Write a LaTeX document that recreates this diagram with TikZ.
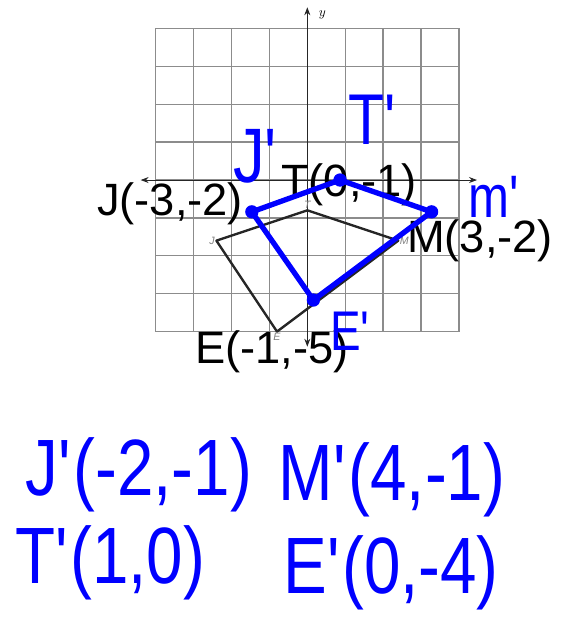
\documentclass[tikz,border=0pt]{standalone}
\usepackage{fontspec}
\setmainfont{Liberation Sans}
\newfontfamily\handfont{Liberation Sans}[FakeStretch=0.82]
\usetikzlibrary{arrows.meta}
\newcommand{\prm}{\textquotesingle}

\tikzset{
  gridline/.style={gray!90, line width=1pt},
  axisline/.style={black!85, line width=0.7pt, {Stealth[length=6pt,width=4.5pt]}-{Stealth[length=6pt,width=4.5pt]}},
  figline/.style={black!85, line width=1.8pt, line join=round},
  tinylabel/.style={text=gray, font=\itshape\fontsize{8}{8}\selectfont, inner sep=1pt},
  biglabel/.style={text=black, font=\fontsize{34}{34}\selectfont, inner sep=0pt, anchor=base},
  imageline/.style={blue, line width=4pt, line join=round},
  imagedot/.style={blue},
  handtext/.style={text=blue, inner sep=0pt, anchor=base west}
}

\begin{document}
\begin{tikzpicture}[x=0.8cm, y=0.8cm]
    \useasboundingbox (-10.14,-14.55) rectangle (8.57,5.94);

    % GRID AND AXES
    \draw[gridline] (-5,-5) grid (5,5);
    \draw[axisline] (-5.5,0) -- (5.6,0);
    \draw[axisline] (0,-5.5) -- (0,5.7);
    \node[font=\itshape\fontsize{10}{10}\selectfont, inner sep=0pt] (ylab) at (0.5,5.45) {$y$};

    % ORIGINAL FIGURE JTME
    \coordinate (J) at (-3,-2);
    \coordinate (T) at (0,-1);
    \coordinate (M) at (3,-2);
    \coordinate (E) at (-1,-5);
    \draw[figline] (J) -- (T) -- (M) -- (E) -- cycle;
    \node[tinylabel, left] (Jtiny) at (J) {J};
    \node[tinylabel, above] (Ttiny) at (T) {T};
    \node[tinylabel, right] (Mtiny) at (M) {M};
    \node[tinylabel, below] (Etiny) at (E) {E};

    % COORDINATE LABELS
    \node[biglabel] (Jlab) at (-4.53,-1.16) {J(-3,-2)};
    \node[biglabel] (Tlab) at (1.38,-0.53) {T(0,-1)};
    \node[biglabel] (Mlab) at (5.70,-2.38) {M(3,-2)};
    \node[biglabel] (Elab) at (-1.17,-6.04) {E(-1,-5)};

    % TRANSLATED FIGURE (drawn by hand)
    \coordinate (Jp) at (-1.83,-1.05);
    \coordinate (Tp) at (1.08,0);
    \coordinate (Mp) at (4.1,-1.05);
    \coordinate (Ep) at (0.2,-3.96);
    \draw[imageline] (Jp) -- (Tp) -- (Mp) -- (Ep) -- cycle;
    \foreach \p in {Jp, Tp, Mp, Ep} {
        \fill[imagedot] (\p) circle (5pt);
    }

    % HANDWRITTEN NAMES
    \node[handtext, font=\handfont\fontsize{58}{58}\selectfont] (Jname) at (-2.45,-0.07) {J\prm};
    \node[handtext, font=\handfont\fontsize{54}{54}\selectfont] (Tname) at (1.35,1.16) {T\prm};
    \node[handtext, font=\handfont\fontsize{45}{45}\selectfont] (Mname) at (5.30,-1.25) {m\prm};
    \node[handtext, font=\handfont\fontsize{42}{42}\selectfont] (Ename) at (0.75,-5.61) {E\prm};

    % HANDWRITTEN COORDINATES
    \node[handtext, font=\handfont\fontsize{60}{60}\selectfont] (Jcoord) at (-9.3,-10.40) {J\prm(-2,-1)};
    \node[handtext, font=\handfont\fontsize{60}{60}\selectfont] (Mcoord) at (-0.95,-10.56) {M\prm(4,-1)};
    \node[handtext, font=\handfont\fontsize{60}{60}\selectfont] (Tcoord) at (-9.65,-13.30) {T\prm(1,0)};
    \node[handtext, font=\handfont\fontsize{60}{60}\selectfont] (Ecoord) at (-0.80,-13.63) {E\prm(0,-4)};

\end{tikzpicture}
\end{document}
